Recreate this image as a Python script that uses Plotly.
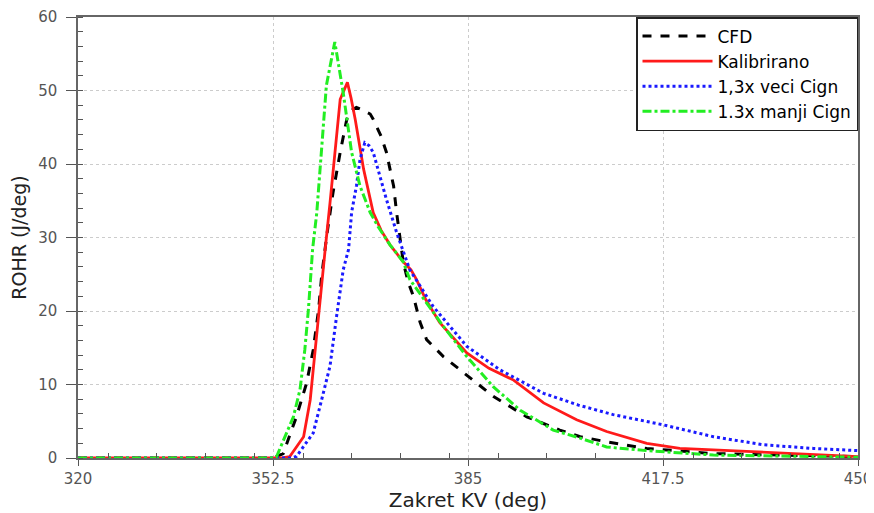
import plotly.graph_objects as go

# ---- data ----
cfd_x = [320, 352.5, 354.2, 356.4, 358.1, 359.2, 360.1, 360.6, 361.5, 362.5, 363.7, 364.8, 365.6, 366.4,
         367.5, 368.7, 369.2, 370.5, 371.4, 372.6, 373.1, 373.6, 374.2, 375.0, 375.9, 377.0, 378.1, 380.9,
         384.8, 389.2, 394.8, 400.3, 403.7, 408.1, 414.8, 425.9, 437.0, 450]
cfd_y = [0, 0, 0.6, 5.6, 10.2, 14.7, 20.2, 24.7, 30.5, 36.1, 41.6, 46.1, 47.3, 47.7,
         47.3, 46.8, 46.1, 43.8, 41.6, 37.0, 33.4, 30.0, 26.7, 24.0, 22.0, 18.5, 16.1, 13.8,
         11.3, 8.4, 5.6, 3.8, 2.9, 2.2, 1.3, 0.6, 0.4, 0.2]

kal_x = [320, 354.0, 355.3, 357.6, 358.7, 359.5, 360.3, 361.2, 362.0, 362.8, 363.7, 364.9, 365.5, 366.2,
         367.6, 369.2, 370.5, 372.0, 374.2, 375.5, 376.4, 378.0, 380.3, 384.8, 388.5, 392.6, 397.6, 403.1,
         408.1, 414.8, 420.3, 431.4, 442.6, 450]
kal_y = [0, 0, 0.2, 2.9, 7.9, 14.7, 21.6, 28.4, 34.7, 41.6, 48.8, 51.1, 49.0, 46.1,
         39.3, 33.4, 31.0, 29.0, 26.7, 25.6, 24.3, 21.5, 18.4, 14.3, 12.2, 10.6, 7.5, 5.2,
         3.6, 2.0, 1.3, 0.9, 0.5, 0.2]

veci_x = [320, 355.5, 356.4, 359.2, 360.6, 362.0, 363.1, 364.2, 365.1, 365.6, 366.4, 367.0, 367.8, 368.5,
          369.2, 370.8, 371.4, 373.1, 374.2, 375.3, 379.2, 384.8, 390.3, 397.6, 403.4, 409.2, 417.6, 425.9,
          434.2, 442.6, 450]
veci_y = [0, 0, 0.2, 3.4, 7.9, 12.5, 19.3, 25.6, 28.4, 33.4, 37.0, 40.6, 42.9, 42.5,
          41.6, 37.0, 35.2, 30.7, 28.0, 25.6, 20.6, 15.2, 12.0, 8.8, 7.2, 5.9, 4.5, 2.9,
          1.8, 1.3, 1.0]

manji_x = [320, 352.2, 353.1, 355.9, 357.0, 357.8, 358.4, 359.1, 359.8, 360.6, 361.4, 362.8, 364.2, 365.6,
           367.0, 368.7, 370.0, 372.0, 374.2, 375.3, 380.9, 384.8, 389.2, 393.7, 399.2, 403.7, 408.1, 414.8,
           425.9, 450]
manji_y = [0, 0, 0.2, 5.6, 9.3, 14.7, 20.2, 28.4, 33.4, 41.6, 50.7, 56.6, 49.7, 41.6,
           37.0, 33.4, 31.5, 29.0, 26.7, 24.3, 17.9, 13.8, 9.7, 6.5, 3.8, 2.7, 1.5, 1.0,
           0.4, 0.1]

x_ticks = [320, 352.5, 385, 417.5, 450]
x_tick_labels = ["320", "352.5", "385", "417.5", "450"]
y_ticks = [0, 10, 20, 30, 40, 50, 60]

names = ["CFD", "Kalibrirano", "1,3x veci Cign", "1.3x manji Cign"]

fig = go.Figure()
fig.add_trace(go.Scatter(x=cfd_x, y=cfd_y, mode="lines", name=names[0],
                         line=dict(color="black", width=3, dash="dash")))
fig.add_trace(go.Scatter(x=kal_x, y=kal_y, mode="lines", name=names[1],
                         line=dict(color="#ff1a1a", width=2.8)))
fig.add_trace(go.Scatter(x=veci_x, y=veci_y, mode="lines", name=names[2],
                         line=dict(color="#1a1aff", width=3, dash="dot")))
fig.add_trace(go.Scatter(x=manji_x, y=manji_y, mode="lines", name=names[3],
                         line=dict(color="#22ee22", width=3, dash="dashdot")))

tick_font = dict(family="DejaVu Sans", size=15, color="#555555")

# the page body has an 8px default margin, so the figure is sized/offset to compensate
fig.update_layout(
    width=866, height=505,
    margin=dict(l=70, r=16, t=9, b=55, autoexpand=False),
    paper_bgcolor="white", plot_bgcolor="white",
    font=dict(family="DejaVu Sans", color="#222222"),
    legend=dict(x=1, y=1, xanchor="right", yanchor="top",
                bgcolor="white", bordercolor="#222222", borderwidth=1.5,
                font=dict(family="DejaVu Sans", size=17, color="black"),
                itemwidth=70, tracegroupgap=0),
    xaxis=dict(
        range=[320, 450], tickmode="array", tickvals=x_ticks, ticktext=x_tick_labels,
        tickfont=tick_font, ticks="outside", ticklen=6, tickcolor="#555555",
        minor=dict(dtick=8.125, ticks="inside", ticklen=5, tickcolor="#555555", showgrid=False),
        showgrid=True, gridcolor="#cccccc", griddash="dot", gridwidth=1,
        showline=True, linecolor="#666666", linewidth=1.5, mirror=True,
        zeroline=False, automargin=True,
        title=dict(text="Zakret KV (deg)", font=dict(family="DejaVu Sans", size=20, color="#222222"),
                   standoff=6),
    ),
    yaxis=dict(
        range=[0, 60], tickmode="array", tickvals=y_ticks,
        tickfont=tick_font, ticks="outside", ticklen=10, tickcolor="#555555",
        ticklabelstandoff=6,
        minor=dict(dtick=2, ticks="inside", ticklen=5, tickcolor="#555555", showgrid=False),
        showgrid=True, gridcolor="#cccccc", griddash="dot", gridwidth=1,
        showline=True, linecolor="#666666", linewidth=1.5, mirror=True,
        zeroline=False, automargin=False,
        title=dict(text="ROHR (J/deg)", font=dict(family="DejaVu Sans", size=19, color="#222222"),
                   standoff=8),
    ),
)

fig.write_html("out.html")
